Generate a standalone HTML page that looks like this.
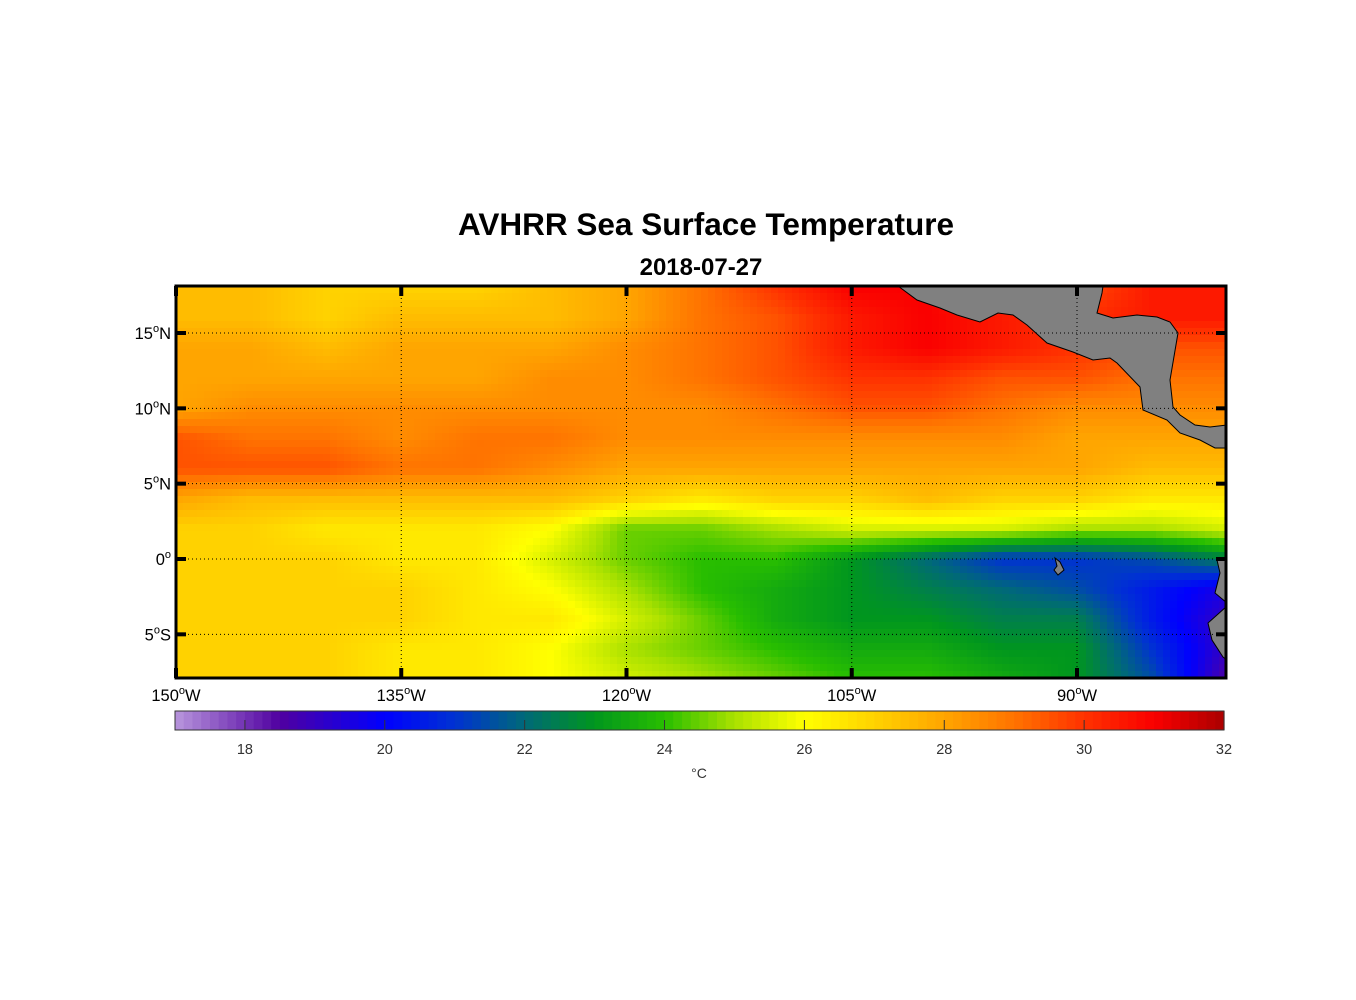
<!DOCTYPE html>
<html><head><meta charset="utf-8"><style>
body{margin:0;background:#fff;}
svg{display:block;font-family:"Liberation Sans",Arial,sans-serif;}
</style></head><body>
<svg id="chart" width="1356" height="1000" viewBox="0 0 1356 1000">
<defs>
<clipPath id="mapclip"><rect x="176" y="286" width="1050" height="392"/></clipPath>
</defs>
<text x="706" y="235" text-anchor="middle" font-size="31.5" font-weight="bold">AVHRR Sea Surface Temperature</text>
<text x="701" y="275" text-anchor="middle" font-size="24" font-weight="bold">2018-07-27</text>
<g id="heat" clip-path="url(#mapclip)"><g id="cells"></g></g>
<g id="land" clip-path="url(#mapclip)" fill="#808080" stroke="#000" stroke-width="1">
<path d="M898,286 L917,300 L940,308 L957,315 L980,322 L998,313 L1013,315 L1027,325 L1047,343 L1073,352 L1093,360 L1110,358 L1117,363 L1140,387 L1143,410 L1167,420 L1180,433 L1200,440 L1215,448 L1227,448 L1227,425 L1210,427 L1195,425 L1180,415 L1173,407 L1170,380 L1178,333 L1170,322 L1157,317 L1137,315 L1113,318 L1097,313 L1102,293 L1103,286 Z"/>
<path d="M1055,558 L1060,562 L1064,570 L1058,575 L1054,570 L1057,566 Z"/>
<path d="M1227,558 L1217,560 L1220,573 L1215,593 L1227,603 Z"/>
<path d="M1227,606 L1208,623 L1212,640 L1223,657 L1227,660 Z"/>
</g>
<g id="grid"></g>
<rect x="176" y="286" width="1050" height="392" fill="none" stroke="#000" stroke-width="3"/>
<g id="axes"></g>
<g id="cbar"></g>
<text x="699" y="778" text-anchor="middle" font-size="14" fill="#333">°C</text>
</svg>
<script>
const lons=[-150,-145,-140,-135,-130,-125,-120,-115,-110,-105,-100,-95,-90,-85,-80];
const lats=[18,16,14,12,10,8,6,4,2,0,-2,-4,-6,-8];
const sst=[
[27.5,27.5,27,27,27,27.5,28,29,30,31,31,30,29.5,30.5,30.5],
[27.5,27.5,27,27.5,27.5,27.5,28,29,29.5,30.5,31,30.5,30,30.5,30.5],
[28,28,27.5,28,28,28,28.5,29,29.5,30.5,31,30.5,30,29.5,29.5],
[28,28,28,28,28,28.5,28.5,29,29.5,30,30,29.5,29.5,29,29],
[28,28.5,28.5,28.5,28.5,28.5,28.5,28.5,29,29.5,29.5,29,28.5,28.5,28.5],
[29.5,29,29,28.5,29,29,28.5,28.5,28.5,28.5,28.5,28.5,28,28,28],
[29.5,29.5,29.5,29,29,28.5,28,28,28,28,28,28,28,27.5,27.5],
[28,27.5,27.5,27.5,27.5,27.5,27,26.5,27,27,27.5,27,27,26.5,26.5],
[27,27,26.5,26.5,26.5,26,24.5,24.5,25,25.5,25.5,25.5,25,25,25.5],
[27,27,27,26.5,26.5,25.5,24.5,24,24,23,22,21,21,21.5,22.5],
[27,27,27,27,26.5,26,25,24,23.5,23,22.5,22,21.5,20.5,19.5],
[27,27,27,27,26.5,26.5,25.5,24.5,23.5,23,23,22.5,22.5,20.5,19],
[27,27,27,26.5,26.5,26,25,24.5,24,23.5,23.5,23,23,21,19],
[27,27,27,26.5,26.5,26,25.5,25,24.5,24,24,23.5,23,21.5,18.5]];
const lonTicks=[-150,-135,-120,-105,-90];
const lonLabels=["150","135","120","105","90"];
const latTicks=[15,10,5,0,-5];
const latLabels=["15","10","5","0","5"];
const latSuffix=["N","N","N","","S"];
const cbTicks=[18,20,22,24,26,28,30,32];

const NS="http://www.w3.org/2000/svg";
const xLon=l=>176+(l+150)*(901/60);
const yLat=a=>559-a*(226/15);
const lonX=x=>(x-176)/(901/60)-150;
const latY=y=>(559-y)/(226/15);
const cbX=v=>175+(v-17)*(1049/15);
const stops=[[17,[184,150,220]],[18.5,[80,0,160]],[20,[0,0,255]],[21,[0,50,210]],[22,[0,105,120]],[23,[0,150,30]],[24,[40,190,0]],[25,[170,225,0]],[26,[255,255,0]],[27,[255,210,0]],[28,[255,165,0]],[29,[255,115,0]],[30,[255,50,0]],[31,[250,0,0]],[32,[170,0,0]]];
function col(v){
 if(v<=stops[0][0])return `rgb(${stops[0][1]})`;
 for(let i=1;i<stops.length;i++){if(v<=stops[i][0]){const a=stops[i-1],b=stops[i],t=(v-a[0])/(b[0]-a[0]);
 return `rgb(${a[1].map((c,k)=>Math.round(c+(b[1][k]-c)*t)).join(',')})`;}}
 return `rgb(${stops[stops.length-1][1]})`;
}
function sample(lo,la){
 let fj=(lo-lons[0])/(lons[1]-lons[0]); let fi=(lats[0]-la)/(lats[0]-lats[1]);
 fj=Math.max(0,Math.min(lons.length-1.0001,fj)); fi=Math.max(0,Math.min(lats.length-1.0001,fi));
 const j=Math.floor(fj),i=Math.floor(fi),tj=fj-j,ti=fi-i;
 const a=sst[i][j]*(1-tj)+sst[i][j+1]*tj, b=sst[i+1][j]*(1-tj)+sst[i+1][j+1]*tj;
 return a*(1-ti)+b*ti;
}
function mk(tag,attrs,parent){const e=document.createElementNS(NS,tag);for(const k in attrs)e.setAttribute(k,attrs[k]);parent.appendChild(e);return e;}
const cells=document.getElementById('cells');
const step=7;
for(let y=286;y<678;y+=step){for(let x=176;x<1226;x+=step){
 const v=sample(lonX(x+step/2),latY(y+step/2));
 const r=mk('rect',{x:x,y:y,width:step+0.5,height:step+0.5,fill:col(v)},cells);
 
 
}}
const grid=document.getElementById('grid'), axes=document.getElementById('axes');
lonTicks.forEach((l,i)=>{
 const x=xLon(l);
 if(i>0){const g=mk('line',{x1:x,x2:x,y1:286,y2:678,stroke:'#000','stroke-width':1,'stroke-dasharray':'1,3'},grid);
 }
 mk('line',{x1:x,x2:x,y1:286,y2:296,stroke:'#000','stroke-width':4},axes);
 mk('line',{x1:x,x2:x,y1:668,y2:678,stroke:'#000','stroke-width':4},axes);
 const t=mk('text',{x:x,y:701,'text-anchor':'middle','font-size':16.5},axes);
 
 t.innerHTML=lonLabels[i]+'<tspan dy="-7" font-size="11">o</tspan><tspan dy="7">W</tspan>';
});
latTicks.forEach((a,i)=>{
 const y=yLat(a);
 const g=mk('line',{x1:176,x2:1226,y1:y,y2:y,stroke:'#000','stroke-width':1,'stroke-dasharray':'1,3'},grid);
 
 mk('line',{x1:176,x2:186,y1:y,y2:y,stroke:'#000','stroke-width':4},axes);
 mk('line',{x1:1216,x2:1226,y1:y,y2:y,stroke:'#000','stroke-width':4},axes);
 const t=mk('text',{x:171,y:y+6,'text-anchor':'end','font-size':16.5},axes);
 
 t.innerHTML=latLabels[i]+'<tspan dy="-7" font-size="11">o</tspan><tspan dy="7">'+latSuffix[i]+'</tspan>';
});
const cb=document.getElementById('cbar');
for(let v=17;v<32-0.001;v+=0.125){
 mk('rect',{x:cbX(v),y:711,width:cbX(v+0.125)-cbX(v)+0.6,height:19,fill:col(v+0.0625)},cb);
}
mk('rect',{x:175,y:711,width:1049,height:19,fill:'none',stroke:'#333','stroke-width':1},cb);
cbTicks.forEach(v=>{
 const x=cbX(v);
 mk('line',{x1:x,x2:x,y1:720,y2:730,stroke:'#333','stroke-width':1},cb);
 const t=mk('text',{x:x,y:754,'text-anchor':'middle','font-size':14.5,fill:'#333'},cb);
 
 t.textContent=v;
});
</script>
</body></html>
